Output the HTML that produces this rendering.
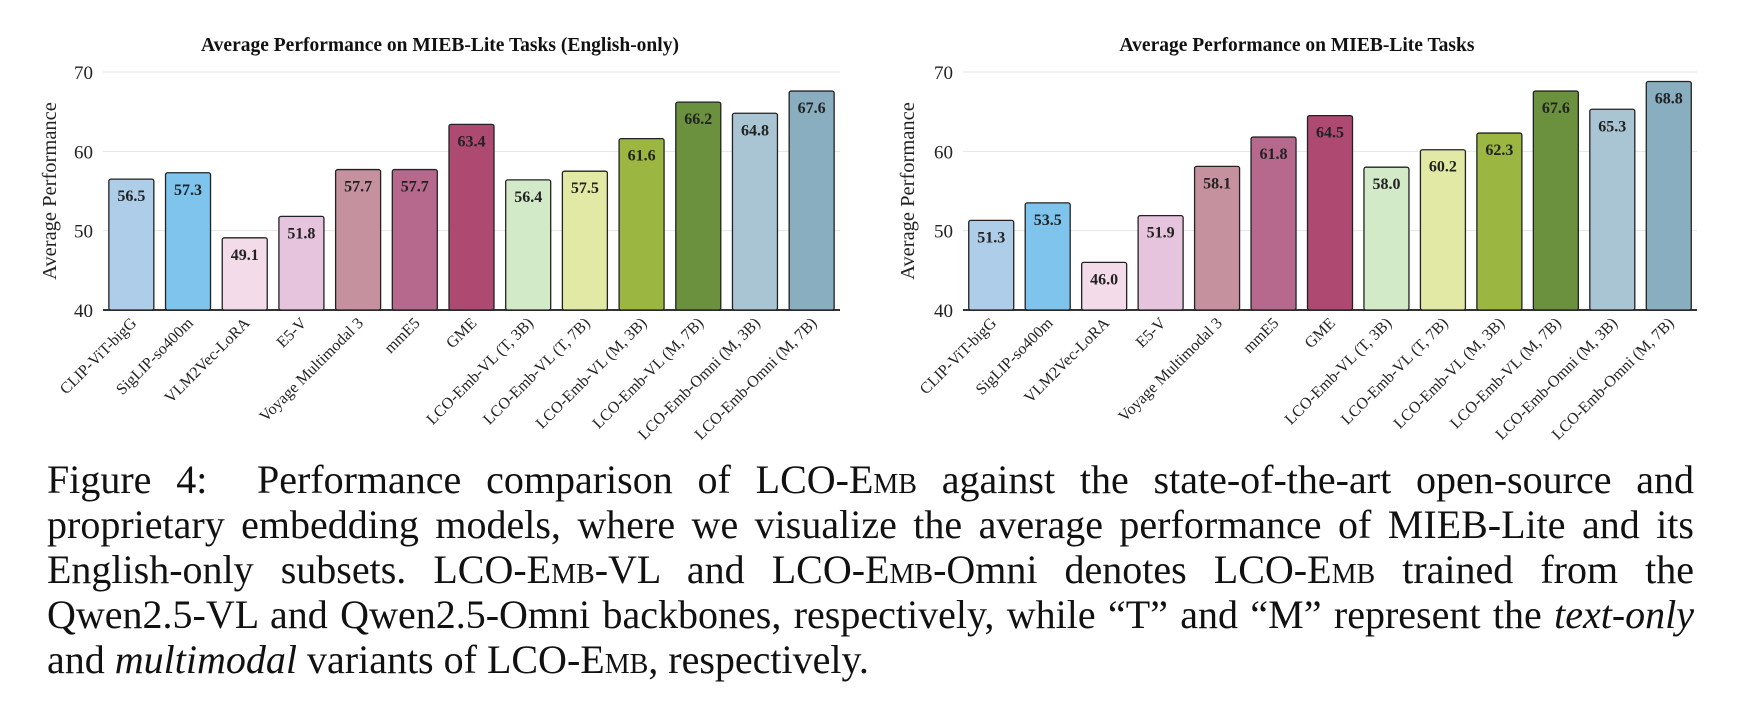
<!DOCTYPE html>
<html><head><meta charset="utf-8"><style>
body{margin:0;width:1760px;height:703px;background:#fff;overflow:hidden;position:relative;font-family:"Liberation Serif",serif}
#cap{position:absolute;left:47px;top:457px;width:1647px;font-size:40px;line-height:45px;text-align:justify;color:#111}
.sc{font-variant:small-caps}
.nw{white-space:nowrap}
</style></head><body>
<svg id="chart" width="1760" height="450" style="position:absolute;left:0;top:0"></svg>
<div id="cap">Figure 4:&nbsp; Performance comparison of LCO-E<span class="sc">mb</span> against the state-of-the-art open-source and proprietary embedding models, where we visualize the average performance of MIEB-Lite and its English-only subsets. LCO-E<span class="sc">mb</span>-VL and LCO-E<span class="sc">mb</span>-Omni denotes LCO-E<span class="sc">mb</span> trained from the Qwen2.5-VL and Qwen2.5-Omni backbones, respectively, while “T” and “M” represent the <i class="nw">text-only</i> and <i>multimodal</i> variants of LCO-E<span class="sc">mb</span>, respectively.</div>
<script>
const categories=["CLIP-ViT-bigG","SigLIP-so400m","VLM2Vec-LoRA","E5-V","Voyage Multimodal 3","mmE5","GME","LCO-Emb-VL (T, 3B)","LCO-Emb-VL (T, 7B)","LCO-Emb-VL (M, 3B)","LCO-Emb-VL (M, 7B)","LCO-Emb-Omni (M, 3B)","LCO-Emb-Omni (M, 7B)"];
const englishValues=[56.5,57.3,49.1,51.8,57.7,57.7,63.4,56.4,57.5,61.6,66.2,64.8,67.6];
const allValues=[51.3,53.5,46.0,51.9,58.1,61.8,64.5,58.0,60.2,62.3,67.6,65.3,68.8];
const yTicks=[40,50,60,70];
const colors=["#aecde9","#7ec4ec","#f3dbe9","#e7c4de","#c5919f","#b6698d","#ae4a72","#d3eac9","#e1e9a4","#9bb641","#6b913e","#a9c5d3","#88aec0"];
const svg=document.getElementById('chart');
const NS='http://www.w3.org/2000/svg';
function mk(tag,attrs,parent){const e=document.createElementNS(NS,tag);for(const k in attrs)e.setAttribute(k,attrs[k]);parent.appendChild(e);return e;}
function draw(cfg){
  const g=mk('g',{},svg);
  
  
  const y0=310,y1=72,vmin=40,vmax=70;
  const y=v=>y0-(v-vmin)/(vmax-vmin)*(y0-y1);
  const step=(cfg.x1-cfg.x0)/categories.length;
  const bw=45;
  const x=i=>cfg.x0+i*step+(step-bw)/2;
  const t=mk('text',{x:cfg.tx,y:51,'text-anchor':'middle','font-size':19.5,'font-weight':'bold',fill:'#111'},g);
  t.textContent=cfg.title;
  
  
  yTicks.forEach(v=>{
    const l=mk('line',{x1:cfg.x0,x2:cfg.x1,y1:y(v),y2:y(v),stroke:v===40?'#333':'#e4e4e4','stroke-width':v===40?2:1},g);
    
    
    const tl=mk('text',{x:cfg.x0-10,y:y(v)+7,'text-anchor':'end','font-size':19,fill:'#222'},g);
    tl.textContent=v;
    
    
  });
  const at=mk('text',{x:0,y:0,'text-anchor':'middle','font-size':20.5,fill:'#222',transform:`translate(${cfg.ax},${(y0+y1)/2}) rotate(-90)`},g);
  at.textContent='Average Performance';
  
  
  cfg.values.forEach((v,i)=>{
    const r=mk('rect',{x:x(i),y:y(v),width:bw,height:y0-y(v),rx:2,fill:colors[i],stroke:'#222','stroke-width':1.3},g);
    
    
    const vl=mk('text',{x:x(i)+bw/2,y:y(v)+22,'text-anchor':'middle','font-size':16,'font-weight':'bold',fill:'#222'},g);
    vl.textContent=v.toFixed(1);
    
    
    const cx=x(i)+bw/2+6;
    const xl=mk('text',{x:cx,y:324,'text-anchor':'end','font-size':16,fill:'#222',transform:`rotate(-45 ${cx} 324)`},g);
    xl.textContent=categories[i];
    
    
  });
}
draw({name:'english-only-chart',title:'Average Performance on MIEB-Lite Tasks (English-only)',values:englishValues,x0:103,x1:840,tx:440,ax:56});
draw({name:'all-tasks-chart',title:'Average Performance on MIEB-Lite Tasks',values:allValues,x0:963,x1:1697,tx:1297,ax:914});
</script>
</body></html>
